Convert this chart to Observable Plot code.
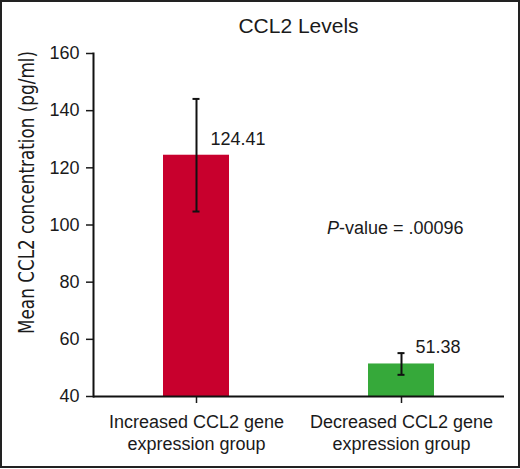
<!DOCTYPE html>
<html>
<head>
<meta charset="utf-8">
<script src="https://cdn.jsdelivr.net/npm/d3@7"></script>
<script src="https://cdn.jsdelivr.net/npm/@observablehq/plot@0.6"></script>
<style>
  html, body { margin: 0; padding: 0; background: #fff; }
  #wrap {
    position: relative; width: 520px; height: 468px; box-sizing: border-box;
    border: 2px solid #222; background: #fff; overflow: hidden;
    font-family: "Liberation Sans", Arial, Helvetica, sans-serif;
  }
  #title {
    position: absolute; left: 91px; width: 411px; top: 0; height: 46px;
    line-height: 47px; text-align: center; font-size: 21px; color: #1a1a1a;
  }
  #chart { position: absolute; left: 0; top: 0; }
  #chart svg { overflow: visible; }
</style>
</head>
<body>
<div id="wrap">
  <div id="chart"></div>
  <div id="title">CCL2 Levels</div>
</div>
<script>
// ---- data ----
const categories = ["Increased CCL2 gene\nexpression group", "Decreased CCL2 gene\nexpression group"];
const means = [124.41, 51.38];
const errors = [19.7, 3.8];
const valueLabels = ["124.41", "51.38"];
const barColors = ["#c8002d", "#36a93a"];
const yTicks = [40, 60, 80, 100, 120, 140, 160];
const yLabel = "Mean CCL2 concentration (pg/ml)";
const pAnnotation = {category: categories[1], y: 96.7, italic: "P", rest: "-value = .00096"};

const rows = categories.map((c, i) => ({
  cat: c, mean: means[i], lo: means[i] - errors[i], hi: means[i] + errors[i],
  label: valueLabels[i], color: barColors[i]
}));

const W = 516, H = 464;
const font = "\"Liberation Sans\", Arial, Helvetica, sans-serif";

const plot = Plot.plot({
  width: W,
  height: H,
  marginLeft: 91,
  marginRight: 14,
  marginTop: 51,
  marginBottom: 70,
  style: {fontFamily: font, fontSize: "18px", color: "#1a1a1a", background: "transparent", overflow: "visible"},
  x: {domain: categories, paddingInner: 0.68, paddingOuter: 0.34, axis: null},
  y: {domain: [40, 160], axis: null},
  marks: [
    Plot.barY(rows, {x: "cat", y1: 40, y2: "mean", fill: "color"}),
    Plot.ruleX(rows, {x: "cat", y1: "lo", y2: "hi", stroke: "#111", strokeWidth: 2}),
    Plot.tickY(rows, {x: "cat", y: "lo", stroke: "#111", strokeWidth: 2, insetLeft: 29.5, insetRight: 29.5}),
    Plot.tickY(rows, {x: "cat", y: "hi", stroke: "#111", strokeWidth: 2, insetLeft: 29.5, insetRight: 29.5}),
    Plot.text(rows, {x: "cat", y: "mean", text: "label", textAnchor: "start", lineAnchor: "bottom", dx: 14, dy: -10.5, fontSize: 18, fill: "#1a1a1a"}),
    Plot.text([pAnnotation], {x: "category", y: "y", text: "italic", fontStyle: "italic", textAnchor: "end", lineAnchor: "bottom", dx: -62.5, fontSize: 18, fill: "#1a1a1a"}),
    Plot.text([pAnnotation], {x: "category", y: "y", text: "rest", textAnchor: "start", lineAnchor: "bottom", dx: -62.5, fontSize: 18, fill: "#1a1a1a"}),
    Plot.axisY({ticks: yTicks, tickSize: 7, tickPadding: 7, tickFormat: d => String(d), fontSize: 18, label: null, strokeWidth: 1.5}),
    Plot.axisX({tickSize: 7, tickPadding: 10, fontSize: 18, label: null, lineHeight: 1.17, strokeWidth: 1.5}),
    Plot.ruleY([40], {stroke: "#111", strokeWidth: 2}),
    Plot.frame({anchor: "left", stroke: "#111", strokeWidth: 2}),
    Plot.text([yLabel], {frameAnchor: "left", rotate: -90, dx: -66, dy: -32.5, fontSize: 21,
      fontFamily: "\"Liberation Sans Narrow\", \"Arial Narrow\", \"DejaVu Sans Condensed\", sans-serif", fill: "#1a1a1a", textAnchor: "middle", lineAnchor: "middle"})
  ]
});
document.getElementById("chart").appendChild(plot);
// condense the y-axis title to the reference's length
plot.querySelectorAll("text").forEach(t => {
  if (t.textContent === yLabel) {
    t.setAttribute("textLength", 283);
    t.setAttribute("lengthAdjust", "spacingAndGlyphs");
  }
});
</script>
</body>
</html>
